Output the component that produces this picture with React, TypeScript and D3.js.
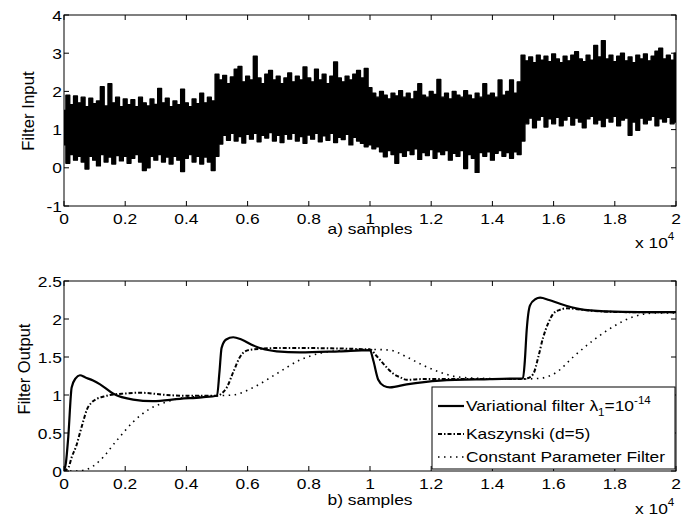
import React from "react";
import * as d3 from "d3";

// ---------- DATA ----------
const xTickValues = [0, 0.2, 0.4, 0.6, 0.8, 1, 1.2, 1.4, 1.6, 1.8, 2]; // x 10^4 samples
const topYTicks = [-1, 0, 1, 2, 3, 4];
const bottomYTicks = [0, 0.5, 1, 1.5, 2, 2.5];

// Filter input: upper / lower envelope of the noisy signal, one value every 125 samples (0..20000)
const inputUpper = [
  // 0 - 4875
  1.5, 1.9, 1.65, 1.88, 1.7, 1.85, 1.6, 1.82, 1.68, 1.75, 2.12, 1.62, 2.2, 1.7, 1.85, 1.6, 1.8, 1.65, 1.78, 1.6,
  1.85, 1.7, 1.62, 1.8, 1.66, 2.08, 1.7, 1.82, 1.6, 1.75, 1.65, 2.06, 1.7, 1.6, 1.8, 1.68, 1.95, 1.7, 1.85, 1.75,
  // 5000 - 9875
  2.45, 2.3, 2.42, 2.2, 2.38, 2.58, 2.65, 2.25, 2.4, 2.3, 2.92, 2.35, 2.2, 2.45, 2.55, 2.3, 2.4, 2.2, 2.35, 2.48,
  2.25, 2.4, 2.3, 2.64, 2.35, 2.25, 2.58, 2.3, 2.45, 2.2, 2.4, 2.77, 2.35, 2.25, 2.4, 2.3, 2.45, 2.55, 2.35, 2.6,
  // 10000 - 14875
  2.1, 1.95, 1.85, 2.0, 1.9, 1.8, 1.95, 1.88, 2.02, 1.85, 1.95, 1.8, 2.0, 2.2, 1.9, 1.85, 2.0, 1.92, 2.31, 1.85,
  1.95, 1.8, 2.0, 1.9, 1.85, 2.02, 1.9, 1.8, 1.95, 1.85, 2.2, 1.9, 1.95, 1.85, 2.3, 1.9, 2.0, 2.3, 1.95, 2.25,
  // 15000 - 20000
  2.95, 2.8, 2.9, 2.75, 2.95, 2.82, 2.92, 2.78, 2.98, 2.85, 2.75, 2.92, 2.8, 2.95, 3.04, 2.85, 2.78, 2.95, 2.82, 3.2,
  2.9, 3.33, 2.85, 2.95, 2.78, 2.92, 3.0, 2.8, 2.9, 2.75, 2.95, 2.85, 2.98, 2.8, 2.92, 3.05, 3.13, 2.85, 2.95, 2.82, 3.0,
];
const inputLower = [
  // 0 - 4875
  0.6, 0.12, 0.35, 0.2, 0.3, 0.15, -0.03, 0.3, 0.2, 0.05, 0.35, 0.15, 0.28, 0.1, 0.32, 0.18, 0.3, 0.12, 0.25, 0.35,
  0.15, -0.07, 0.0, 0.3, 0.2, 0.35, 0.15, 0.28, 0.1, 0.3, 0.2, -0.1, 0.25, 0.35, 0.15, 0.3, 0.1, 0.28, 0.15, -0.07,
  // 5000 - 9875
  0.3, 0.62, 0.85, 0.72, 0.9, 0.7, 0.82, 0.65, 0.88, 0.75, 0.9, 0.68, 0.85, 0.78, 0.92, 0.7, 0.85, 0.66, 0.88, 0.75,
  0.9, 0.7, 0.82, 0.64, 0.86, 0.75, 0.9, 0.68, 0.84, 0.72, 0.9, 0.66, 0.8, 0.74, 0.88, 0.6, 0.8, 0.7, 0.64, 0.55,
  // 10000 - 14875
  0.6, 0.5, 0.55, 0.42, 0.29, 0.45, 0.35, 0.12, 0.4, 0.3, 0.45, 0.35, 0.5, 0.22, 0.4, 0.32, 0.48, 0.25, 0.42, 0.35,
  0.45, 0.2, 0.38, 0.3, 0.45, -0.02, 0.35, 0.25, -0.12, 0.4, 0.3, 0.42, 0.2, 0.38, 0.45, 0.3, 0.4, 0.25, 0.42, 0.35,
  // 15000 - 20000
  0.7, 1.15, 1.3, 1.05, 1.25, 1.35, 1.07, 1.28, 1.15, 1.32, 1.1, 1.25, 1.35, 1.12, 1.3, 1.2, 1.05, 1.28, 1.35, 1.15,
  1.25, 1.08, 1.3, 1.2, 1.35, 1.1, 1.25, 1.3, 0.85, 1.2, 0.98, 1.3, 1.15, 1.25, 1.35, 1.1, 1.28, 1.2, 1.32, 1.15, 1.2,
];
const inputStep = 125;

// Variational filter
const varSamples = [0, 60, 140, 250, 380, 520, 700, 950, 1180, 1600, 2260, 2900, 3790, 4500, 5000, 5080, 5150, 5300, 5530, 5800, 6190, 6950, 7710, 9000, 10000, 10110, 10270, 10450, 10650, 11200, 12290, 13920, 15000, 15060, 15120, 15230, 15400, 15560, 15850, 16210, 16860, 17730, 18800, 20000];
const varValues = [0, 0.1, 0.45, 1.1, 1.22, 1.26, 1.23, 1.19, 1.14, 1.02, 0.94, 0.92, 0.95, 0.97, 0.99, 1.3, 1.62, 1.73, 1.76, 1.73, 1.65, 1.575, 1.56, 1.575, 1.59, 1.45, 1.2, 1.12, 1.1, 1.14, 1.19, 1.21, 1.22, 1.45, 1.85, 2.18, 2.26, 2.28, 2.25, 2.2, 2.13, 2.1, 2.09, 2.09];

// Kaszynski (d=5)
const kasSamples = [0, 150, 250, 400, 520, 640, 740, 900, 1070, 1300, 1500, 2000, 2480, 3360, 4010, 5000, 5150, 5320, 5530, 5750, 5950, 6200, 7170, 10000, 10200, 10440, 10760, 11000, 11200, 11740, 15000, 15150, 15340, 15500, 15660, 15830, 15990, 16200, 16430, 17190, 18500, 20000];
const kasValues = [0, 0.05, 0.18, 0.33, 0.5, 0.67, 0.8, 0.9, 0.95, 0.98, 1.0, 1.02, 1.03, 1.0, 0.99, 0.99, 1.02, 1.1, 1.3, 1.5, 1.58, 1.6, 1.62, 1.6, 1.52, 1.41, 1.28, 1.23, 1.2, 1.21, 1.21, 1.22, 1.28, 1.5, 1.76, 1.95, 2.07, 2.12, 2.14, 2.11, 2.09, 2.09];

// Constant parameter filter
const cpfSamples = [0, 400, 740, 1180, 1720, 2270, 2810, 3360, 4010, 5000, 5530, 6190, 6950, 7710, 8370, 9240, 10000, 10650, 11200, 11740, 12290, 12830, 13590, 15000, 15560, 16100, 16640, 17300, 17950, 18610, 19370, 20000];
const cpfValues = [0, 0.0, 0.02, 0.14, 0.4, 0.65, 0.82, 0.91, 0.97, 0.99, 1.0, 1.1, 1.28, 1.46, 1.55, 1.59, 1.6, 1.59, 1.5, 1.39, 1.3, 1.24, 1.22, 1.21, 1.22, 1.3, 1.5, 1.72, 1.9, 2.03, 2.08, 2.08];

// ---------- LAYOUT ----------
const W = 693;
const H = 516;
const L = 64;
const R = 676;
const FONT = "'Liberation Sans', Arial, Helvetica, sans-serif";
const FS = 15;
const SX = 1.16;

const x = d3.scaleLinear().domain([0, 20000]).range([L, R]);
const yTop = d3.scaleLinear().domain([-1, 4]).range([206, 15]);
const yBot = d3.scaleLinear().domain([0, 2.5]).range([471, 281]);

function T({ x, y, anchor = "start", size = FS, children }: { x: number; y: number; anchor?: string; size?: number; children: React.ReactNode }) {
  return (
    <text transform={`translate(${x},${y}) scale(${SX},1)`} textAnchor={anchor} fontSize={size} fontFamily={FONT} fill="#000">
      {children}
    </text>
  );
}

function Axes({ y, yTicks }: { y: d3.ScaleLinear<number, number>; yTicks: number[] }) {
  const [y0, y1] = y.range();
  const tl = 5;
  return (
    <g>
      <rect x={L} y={y1} width={R - L} height={y0 - y1} fill="none" stroke="#000" strokeWidth={1} />
      {xTickValues.map((t) => {
        const px = x(t * 10000);
        return (
          <g key={"x" + t}>
            <line x1={px} x2={px} y1={y0} y2={y0 - tl} stroke="#000" />
            <line x1={px} x2={px} y1={y1} y2={y1 + tl} stroke="#000" />
            <T x={px} y={y0 + 18} anchor="middle">{String(t)}</T>
          </g>
        );
      })}
      {yTicks.map((t) => {
        const py = y(t);
        return (
          <g key={"y" + t}>
            <line x1={L} x2={L + tl} y1={py} y2={py} stroke="#000" />
            <line x1={R} x2={R - tl} y1={py} y2={py} stroke="#000" />
            <T x={L - 2} y={py + 5.5} anchor="end">{String(t)}</T>
          </g>
        );
      })}
    </g>
  );
}

export default function App() {
  const inputPts = inputUpper.map((u, i) => ({ s: i * inputStep, u, l: inputLower[i] }));
  const band = d3
    .area<{ s: number; u: number; l: number }>()
    .x((d) => x(d.s))
    .y0((d) => yTop(d.l))
    .y1((d) => yTop(d.u))
    .curve(d3.curveStep);

  const mkLine = (xs: number[], vs: number[]) =>
    d3
      .line<number>()
      .x((_, i) => x(xs[i]))
      .y((v) => yBot(v))
      .curve(d3.curveMonotoneX)(vs) as string;

  const lgX = 432;
  const lgY = 387;
  const lgW = 243;
  const lgH = 82;
  const rows = [406, 434, 457];

  return (
    <svg width={W} height={H} style={{ position: "absolute", left: 0, top: 0, background: "#fff" }}>
      <rect x={0} y={0} width={W} height={H} fill="#fff" />
      <defs>
        <clipPath id="clipTop">
          <rect x={L} y={15} width={R - L} height={191} />
        </clipPath>
        <clipPath id="clipBot">
          <rect x={L} y={281} width={R - L} height={190} />
        </clipPath>
      </defs>

      {/* ---------- top panel ---------- */}
      <g clipPath="url(#clipTop)">
        <path d={band(inputPts) as string} fill="#000" stroke="#000" strokeWidth={1.4} strokeLinejoin="round" />
      </g>
      <Axes y={yTop} yTicks={topYTicks} />
      <T x={370} y={234} anchor="middle">a) samples</T>
      <T x={635} y={248}>
        x 10<tspan fontSize={10} dy={-8}>4</tspan>
      </T>
      <text transform="translate(34,111) rotate(-90)" textAnchor="middle" fontSize={16.8} fontFamily={FONT}>Filter Input</text>

      {/* ---------- bottom panel ---------- */}
      <g clipPath="url(#clipBot)" fill="none" stroke="#000">
        <path d={mkLine(cpfSamples, cpfValues)} strokeWidth={1.6} strokeDasharray="1.5,4.5" />
        <path d={mkLine(kasSamples, kasValues)} strokeWidth={2} strokeDasharray="4,2,1.5,2" />
        <path d={mkLine(varSamples, varValues)} strokeWidth={2.2} />
      </g>
      <Axes y={yBot} yTicks={bottomYTicks} />
      <T x={370} y={505} anchor="middle">b) samples</T>
      <T x={635} y={514}>
        x 10<tspan fontSize={10} dy={-8}>4</tspan>
      </T>
      <text transform="translate(30,369) rotate(-90)" textAnchor="middle" fontSize={16.5} fontFamily={FONT}>Filter Output</text>

      {/* legend */}
      <rect x={lgX} y={lgY} width={lgW} height={lgH} fill="#fff" stroke="#000" strokeWidth={1} />
      <line x1={438} x2={464} y1={rows[0]} y2={rows[0]} stroke="#000" strokeWidth={2.2} />
      <line x1={438} x2={464} y1={rows[1]} y2={rows[1]} stroke="#000" strokeWidth={2} strokeDasharray="4,2,1.5,2" />
      <line x1={438} x2={464} y1={rows[2]} y2={rows[2]} stroke="#000" strokeWidth={1.6} strokeDasharray="1.5,4.5" />
      <T x={466} y={rows[0] + 5}>
        Variational filter λ
        <tspan fontSize={10} dy={5}>1</tspan>
        <tspan dy={-5}>=10</tspan>
        <tspan fontSize={10} dy={-7}>-14</tspan>
      </T>
      <T x={466} y={rows[1] + 5}>Kaszynski (d=5)</T>
      <T x={466} y={rows[2] + 5}>Constant Parameter Filter</T>
    </svg>
  );
}
